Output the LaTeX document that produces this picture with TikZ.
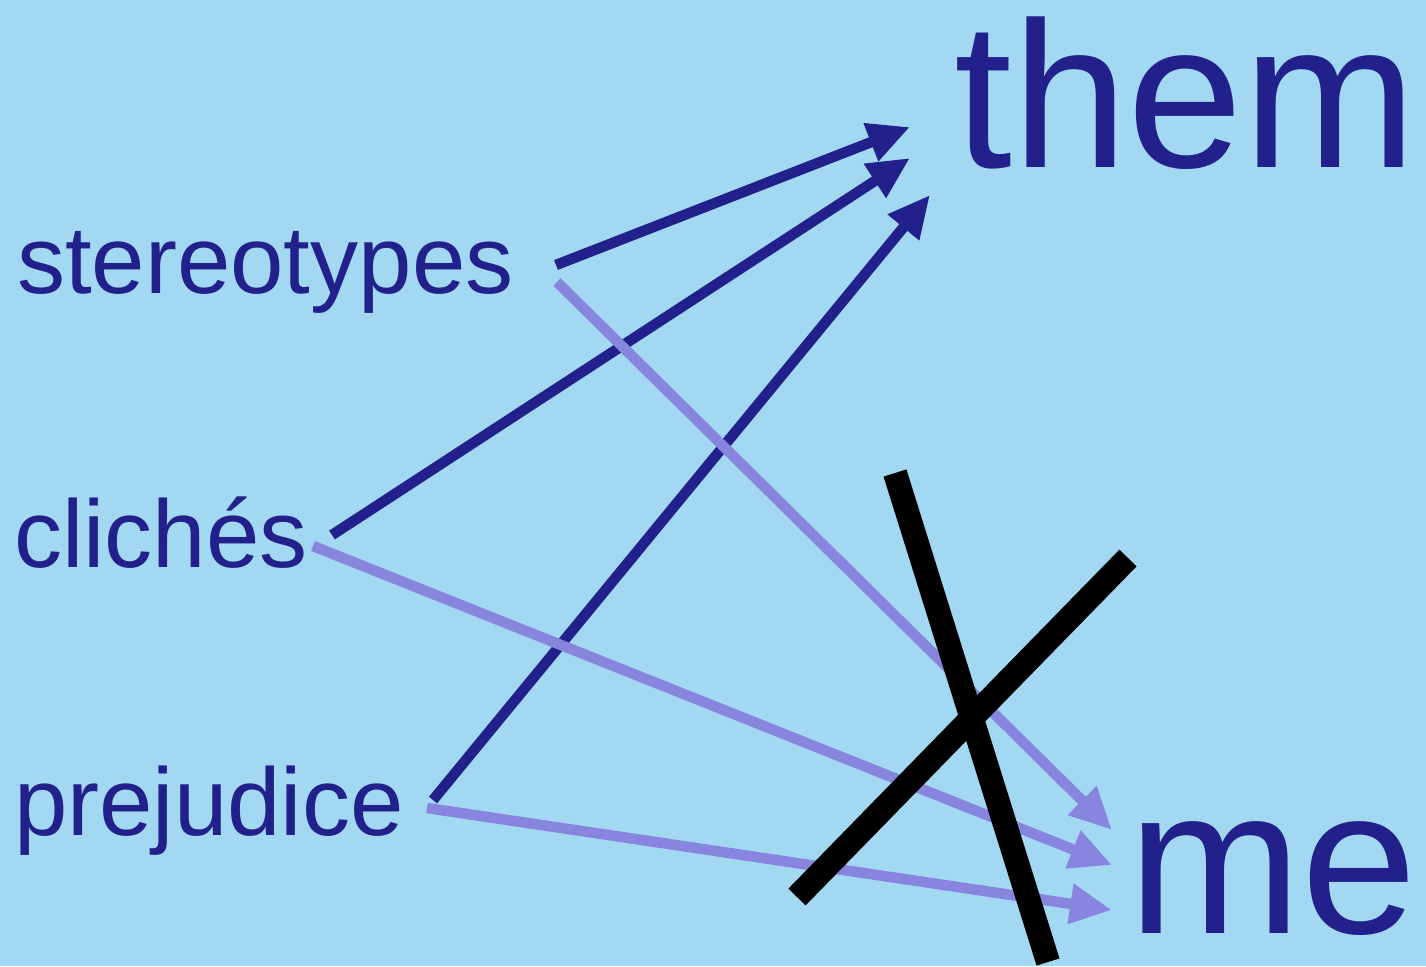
\documentclass[tikz,border=0pt]{standalone}
\usepackage{fontspec}
\setmainfont{Liberation Sans}
\usetikzlibrary{arrows.meta}
\definecolor{bg}{HTML}{A3D8F3}
\definecolor{ink}{HTML}{22208A}
\definecolor{lilac}{HTML}{8785DE}
\tikzset{
  word/.style={anchor=base west, inner sep=0pt, text=ink, font=\fontsize{96}{96}\selectfont},
  big/.style={anchor=base west, inner sep=0pt, text=ink, font=\fontsize{208}{208}\selectfont},
  link/.style={line width=10.5pt, -{Triangle[length=42pt,width=38pt]}},
  towards/.style={link, draw=ink},
  away/.style={link, draw=lilac},
  cross/.style={line width=24pt, draw=black}
}
\begin{document}
\begin{tikzpicture}[x=1pt,y=-1pt]
  \fill[bg] (0,0) rectangle (1426,966);
  \useasboundingbox (0,0) rectangle (1426,966);

  % labels
  \node[word] (stereo) at (17,293) {stereotypes};
  \node[word] (cliches) at (14,567) {clichés};
  \node[word] (prej) at (14,835) {prejudice};
  \node[big] (them) at (954,167) {them};
  \node[big] (me) at (1128,933) {me};

  % arrow ends
  \coordinate (s1) at (556,265);
  \coordinate (s2) at (557,282);
  \coordinate (c1) at (332,535);
  \coordinate (c2) at (313,546);
  \coordinate (p1) at (433,800);
  \coordinate (p2) at (427,808);
  \coordinate (t1) at (910,127);
  \coordinate (t2) at (910,158);
  \coordinate (t3) at (930,195);
  \coordinate (m1) at (1112,830);
  \coordinate (m2) at (1112,865);
  \coordinate (m3) at (1112,910);

  % links to "them"
  \draw[towards] (s1) -- (t1);
  \draw[towards] (c1) -- (t2);
  \draw[towards] (p1) -- (t3);

  % links to "me"
  \draw[away] (s2) -- (m1);
  \draw[away] (c2) -- (m2);
  \draw[away] (p2) -- (m3);

  % crossing-out mark
  \coordinate (xa) at (895,473);
  \coordinate (xb) at (1048,962);
  \coordinate (xc) at (797,897);
  \coordinate (xd) at (1128,558);
  \draw[cross] (xa) -- (xb);
  \draw[cross] (xc) -- (xd);
\end{tikzpicture}
\end{document}
